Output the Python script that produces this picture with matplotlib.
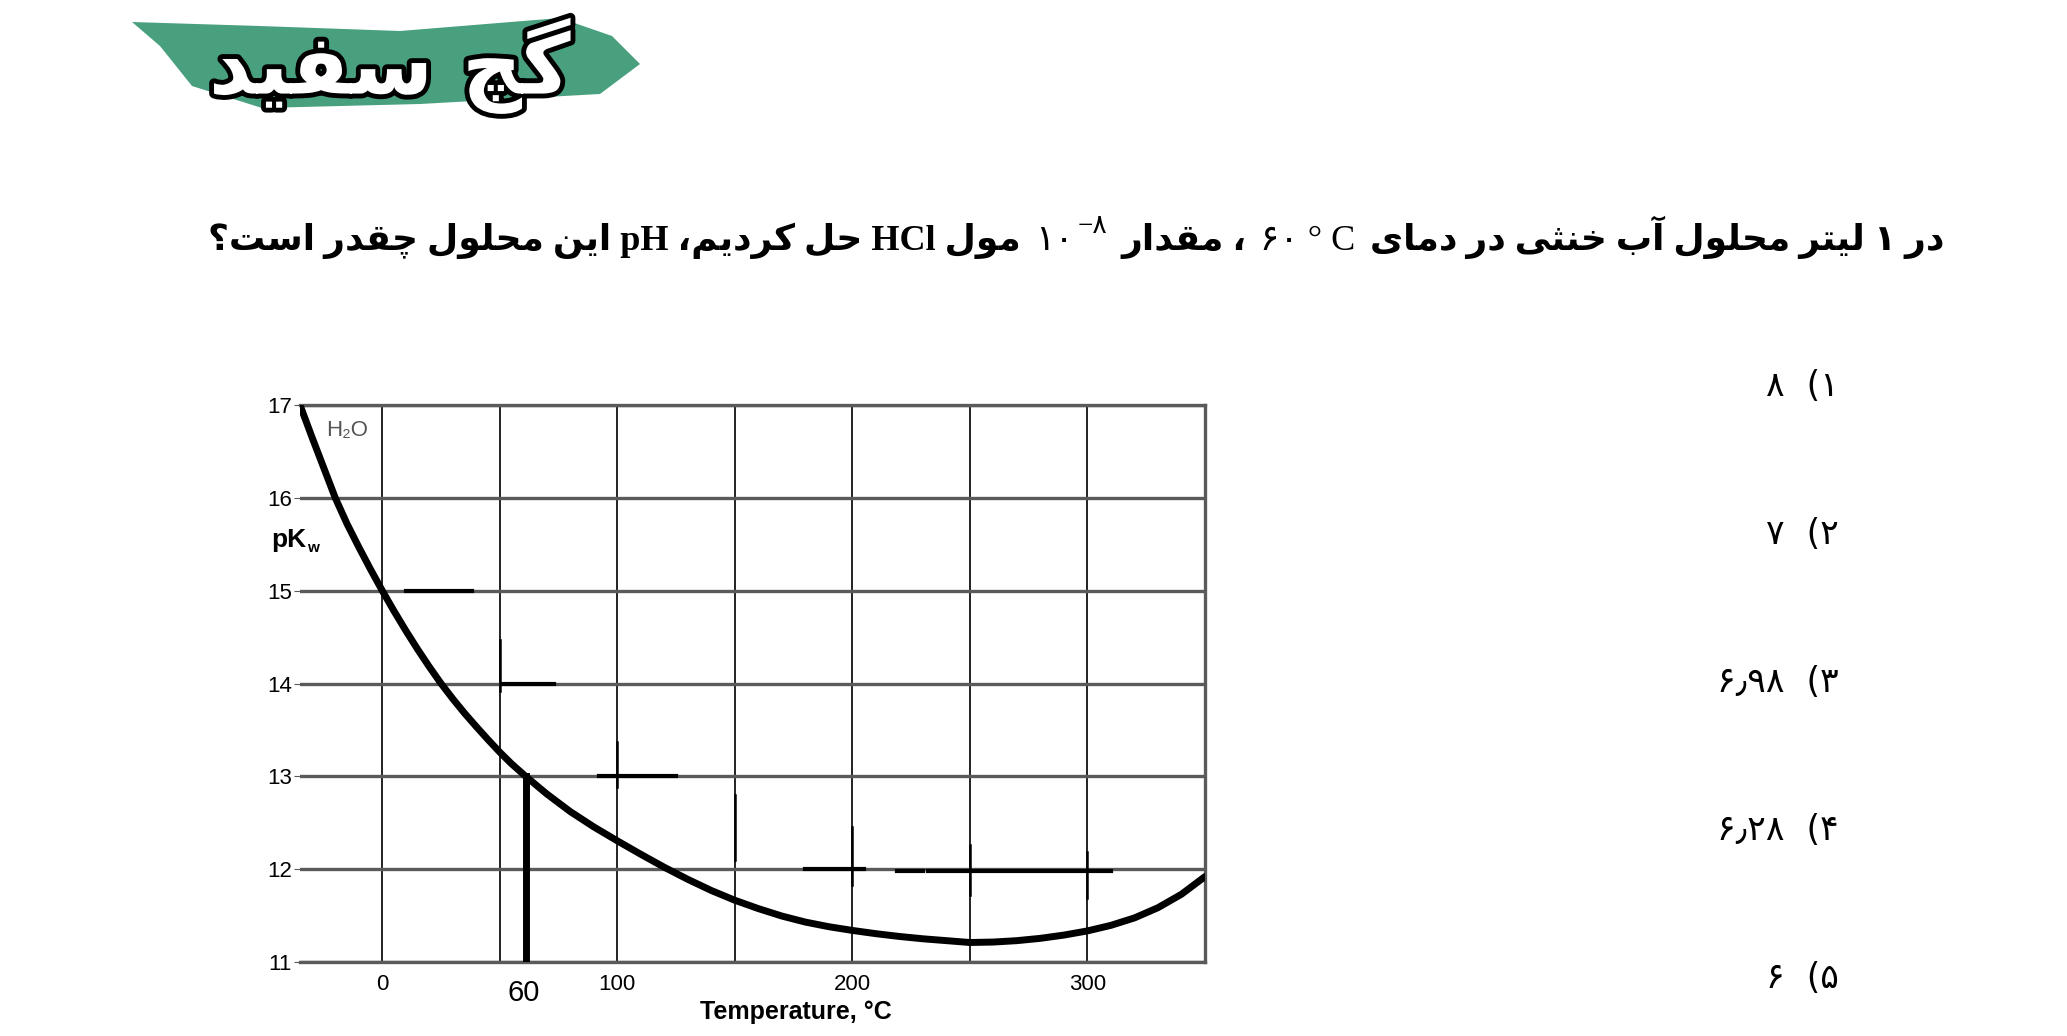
import matplotlib
matplotlib.use('Agg')
import matplotlib.pyplot as plt
import matplotlib.patheffects as pe
from matplotlib.patches import Polygon

# داده های نمودار pKw آب بر حسب دما (خوانده شده از تصویر)
temp_c = [-35, -30, -25, -20, -15, -10, -5, 0, 5, 10, 15, 20, 25, 30, 35, 40, 45,
          50, 55, 61, 70, 80, 90, 100, 110, 120, 130, 140, 150, 160, 170, 180,
          190, 200, 210, 220, 230, 240, 250, 260, 270, 280, 290, 300, 310, 320,
          330, 340, 350]
pkw = [17.0, 16.66, 16.33, 16.0, 15.72, 15.47, 15.23, 15.0, 14.78, 14.57, 14.37,
       14.18, 14.0, 13.835, 13.68, 13.535, 13.395, 13.26, 13.135, 13.0, 12.81,
       12.62, 12.455, 12.305, 12.16, 12.02, 11.89, 11.77, 11.665, 11.575, 11.495,
       11.43, 11.38, 11.34, 11.305, 11.275, 11.25, 11.23, 11.21, 11.215, 11.23,
       11.255, 11.29, 11.335, 11.395, 11.475, 11.585, 11.73, 11.92]
marked_temp = 61
marked_pkw = 13.0
x_labels = [0, 100, 200, 300]
x_minor = [50, 150, 250]
y_ticks = [11, 12, 13, 14, 15, 16, 17]

# خط های دستی روی نمودار (y, x0, x1) و (x, y0, y1)
note_h = [(15.0, 10, 38), (14.0, 51, 73), (13.0, 92, 125), (12.0, 180, 205),
          (11.98, 219, 230), (11.98, 232, 310)]
note_v = [(50, 13.92, 14.47), (100, 12.89, 13.37), (150, 12.1, 12.8),
          (200, 11.83, 12.45), (250, 11.72, 12.26), (300, 11.69, 12.18)]

question_right = "در ۱ لیتر محلول آب خنثی در دمای"
question_temp = "۶۰ ° C"
question_mid = "، مقدار"
question_base = "۱۰"
question_exp = "−۸"
question_left = "مول HCl حل کردیم، pH این محلول چقدر است؟"
option_nums = ["۱", "۲", "۳", "۴", "۵"]
option_vals = ["۸", "۷", "۶٫۹۸", "۶٫۲۸", "۶"]
logo_text = "گچ سفید"

W, H = 2067, 1036

# شکل های حروف فارسی: جدا، پایانی، آغازی، میانی
FORMS = {
    'ا': ('\uFE8D', '\uFE8E'), 'آ': ('\uFE81', '\uFE82'), 'د': ('\uFEA9', '\uFEAA'),
    'ر': ('\uFEAD', '\uFEAE'), 'و': ('\uFEED', '\uFEEE'),
    'ب': ('\uFE8F', '\uFE90', '\uFE91', '\uFE92'), 'ت': ('\uFE95', '\uFE96', '\uFE97', '\uFE98'),
    'ث': ('\uFE99', '\uFE9A', '\uFE9B', '\uFE9C'), 'ح': ('\uFEA1', '\uFEA2', '\uFEA3', '\uFEA4'),
    'خ': ('\uFEA5', '\uFEA6', '\uFEA7', '\uFEA8'), 'س': ('\uFEB1', '\uFEB2', '\uFEB3', '\uFEB4'),
    'ف': ('\uFED1', '\uFED2', '\uFED3', '\uFED4'), 'ق': ('\uFED5', '\uFED6', '\uFED7', '\uFED8'),
    'ل': ('\uFEDD', '\uFEDE', '\uFEDF', '\uFEE0'), 'م': ('\uFEE1', '\uFEE2', '\uFEE3', '\uFEE4'),
    'ن': ('\uFEE5', '\uFEE6', '\uFEE7', '\uFEE8'), 'ه': ('\uFEE9', '\uFEEA', '\uFEEB', '\uFEEC'),
    'ی': ('\uFBFC', '\uFBFD', '\uFBFE', '\uFBFF'), 'ک': ('\uFB8E', '\uFB8F', '\uFB90', '\uFB91'),
    'گ': ('\uFB92', '\uFB93', '\uFB94', '\uFB95'), 'چ': ('\uFB7A', '\uFB7B', '\uFB7C', '\uFB7D'),
}


def shape(word):
    out = []
    for i, ch in enumerate(word):
        f = FORMS.get(ch)
        if f is None:
            out.append(ch)
            continue
        prev = FORMS.get(word[i - 1]) if i > 0 else None
        nxt = word[i + 1] if i + 1 < len(word) else None
        join_prev = prev is not None and len(prev) == 4
        join_next = len(f) == 4 and nxt in FORMS
        if join_prev and join_next:
            out.append(f[3])
        elif join_prev:
            out.append(f[1])
        elif join_next:
            out.append(f[2])
        else:
            out.append(f[0])
    return ''.join(reversed(out))


def fa(s):
    res = []
    for w in reversed(s.split(' ')):
        if any(c in FORMS for c in w):
            res.append(shape(w))
        else:
            res.append(w)
    return ' '.join(res)


def fx(px):
    return px / W


def fy(py):
    return 1 - py / H


SERIF = ['Liberation Serif', 'DejaVu Sans']
SANS = ['Liberation Sans', 'DejaVu Sans']

fig = plt.figure(figsize=(W / 100, H / 100), dpi=100)
fig.patch.set_facecolor('white')

# لوگو
brush = [(132, 22), (260, 26), (400, 31), (560, 18), (612, 36), (640, 64),
         (600, 94), (420, 104), (262, 108), (192, 86), (160, 46)]
fig.patches.append(Polygon([(fx(x), fy(y)) for x, y in brush], closed=True,
                           transform=fig.transFigure, facecolor='#48a07e',
                           edgecolor='none', zorder=0))
fig.text(fx(390), fy(66), fa(logo_text), fontsize=60, fontweight='bold',
         family='DejaVu Sans', color='white', ha='center', va='center',
         path_effects=[pe.withStroke(linewidth=7, foreground='black')])

# متن سوال از راست به چپ
fig.canvas.draw()
renderer = fig.canvas.get_renderer()
q_size = 26
segments = [
    (fa(question_right), 'bold', q_size, 0),
    (question_temp, 'normal', q_size, 0),
    (fa(question_mid), 'bold', q_size, 0),
    (question_exp, 'normal', q_size * 0.75, 17),
    (question_base, 'normal', q_size, 0),
    (fa(question_left), 'bold', q_size, 0),
]
x_cur = 1944
for txt, weight, size, raise_px in segments:
    t = fig.text(fx(x_cur), fy(250) + raise_px / H, txt, fontsize=size,
                 fontweight=weight, family=SERIF, ha='right', va='baseline')
    bb = t.get_window_extent(renderer)
    x_cur = x_cur - bb.width - (4 if raise_px else 14)

# گزینه ها
opt_y = [386, 534, 682, 830, 978]
for num, val, yy in zip(option_nums, option_vals, opt_y):
    fig.text(fx(1839), fy(yy), val + "  (" + num, fontsize=25, family='DejaVu Sans',
             ha='right', va='center')

# نمودار
ax = fig.add_axes([fx(300), fy(962), fx(1205) - fx(300), (962 - 405) / H])
ax.plot(temp_c, pkw, color='black', lw=5, solid_capstyle='round',
        solid_joinstyle='round', zorder=5)
ax.plot([marked_temp, marked_temp], [11, marked_pkw], color='black', lw=5, zorder=5)
for y, x0, x1 in note_h:
    ax.plot([x0, x1], [y, y], color='black', lw=3, zorder=4)
for x, y0, y1 in note_v:
    ax.plot([x, x], [y0, y1], color='black', lw=1.8, zorder=4)

ax.set_xlim(-35, 350)
ax.set_ylim(11, 17)
ax.set_xticks(x_labels)
ax.set_xticks(x_minor, minor=True)
ax.set_yticks(y_ticks)
ax.set_xticklabels([str(v) for v in x_labels], family=SANS, fontsize=16)
ax.set_yticklabels([str(v) for v in y_ticks], family=SANS, fontsize=16)
ax.tick_params(axis='x', which='both', length=0, pad=9)
ax.tick_params(axis='y', length=4, pad=2, color='#5a5a5a')
ax.grid(axis='x', which='both', color='#222222', lw=1.4)
ax.grid(axis='y', color='#5a5a5a', lw=2.4)
ax.set_axisbelow(True)
ax.spines['left'].set_visible(False)
for side in ['top', 'bottom', 'right']:
    ax.spines[side].set_color('#5a5a5a')
    ax.spines[side].set_linewidth(2.4)

ax.text(60, -0.055, "60", transform=ax.get_xaxis_transform(), fontsize=21,
        family=SANS, ha='center', va='center')
fig.text(fx(796), fy(1012), "Temperature, °C", fontsize=18, fontweight='bold',
         family=SANS, ha='center', va='center')
fig.text(fx(306), fy(540), "pK", fontsize=19, fontweight='bold', family=SANS,
         ha='right', va='center')
fig.text(fx(307), fy(548), "w", fontsize=11, fontweight='bold', family=SANS,
         ha='left', va='center')
ax.text(-15, 16.73, "H₂O", fontsize=16, family=SANS, color='#555555',
        ha='center', va='center', zorder=6)

fig.savefig('out.png', dpi=100)
